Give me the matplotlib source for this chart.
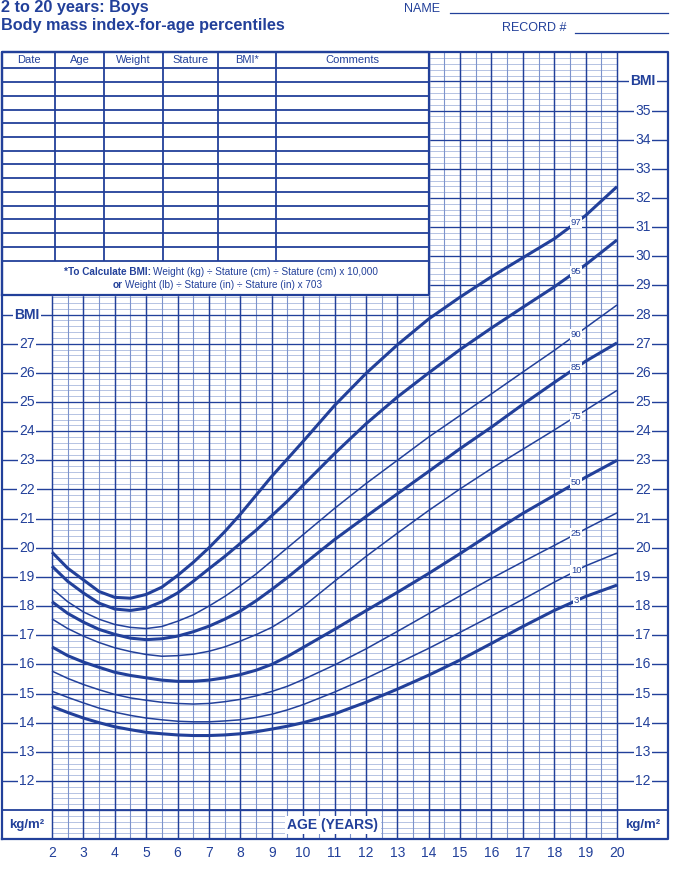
import numpy as np
import matplotlib
matplotlib.use("Agg")
import matplotlib.pyplot as plt

plt.rcParams['font.family'] = ['Liberation Sans', 'DejaVu Sans']

# ages (years) shared by every percentile curve
ages = [2, 2.5, 3, 3.5, 4, 4.5, 5, 5.5, 6, 6.5, 7, 7.5, 8, 8.5, 9, 9.5, 10,
        11, 12, 13, 14, 15, 16, 17, 18, 19, 20]

# BMI percentile curves
p97 = [19.85, 19.3, 18.9, 18.5, 18.3, 18.27, 18.4, 18.65, 19.05, 19.5, 20.0, 20.55, 21.15, 21.8, 22.45, 23.05, 23.65,
       24.88, 25.98, 26.96, 27.85, 28.6, 29.3, 29.95, 30.6, 31.4, 32.39]
p95 = [19.37, 18.85, 18.45, 18.1, 17.9, 17.85, 17.93, 18.15, 18.45, 18.85, 19.28, 19.7, 20.15, 20.6, 21.1, 21.6, 22.15,
       23.23, 24.25, 25.17, 26.0, 26.8, 27.54, 28.25, 28.95, 29.71, 30.56]
p90 = [18.6, 18.15, 17.8, 17.55, 17.37, 17.27, 17.23, 17.3, 17.48, 17.7, 18.0, 18.33, 18.7, 19.1, 19.55, 20.0, 20.45,
       21.35, 22.2, 23.0, 23.8, 24.54, 25.28, 26.03, 26.77, 27.55, 28.33]
p85 = [18.15, 17.75, 17.45, 17.2, 17.03, 16.9, 16.85, 16.88, 16.97, 17.12, 17.31, 17.55, 17.83, 18.18, 18.57, 18.98, 19.42,
       20.28, 21.07, 21.85, 22.62, 23.4, 24.14, 24.92, 25.67, 26.4, 27.03]
p75 = [17.56, 17.23, 16.97, 16.75, 16.57, 16.44, 16.34, 16.28, 16.3, 16.35, 16.45, 16.6, 16.8, 17.02, 17.27, 17.6, 17.98,
       18.85, 19.7, 20.5, 21.28, 22.02, 22.72, 23.38, 24.04, 24.72, 25.4]
p50 = [16.6, 16.3, 16.08, 15.9, 15.73, 15.62, 15.54, 15.46, 15.42, 15.42, 15.46, 15.54, 15.65, 15.8, 16.0, 16.27, 16.58,
       17.2, 17.84, 18.47, 19.12, 19.8, 20.5, 21.18, 21.8, 22.42, 23.0]
p25 = [15.77, 15.52, 15.31, 15.13, 14.97, 14.85, 14.77, 14.7, 14.66, 14.64, 14.66, 14.72, 14.8, 14.92, 15.07, 15.25, 15.48,
       15.98, 16.53, 17.13, 17.74, 18.35, 18.95, 19.52, 20.08, 20.65, 21.2]
p10 = [15.08, 14.87, 14.68, 14.5, 14.36, 14.25, 14.16, 14.1, 14.05, 14.03, 14.03, 14.06, 14.1, 14.18, 14.29, 14.44, 14.62,
       15.05, 15.52, 16.03, 16.55, 17.1, 17.66, 18.23, 18.82, 19.38, 19.82]
p3 = [14.56, 14.35, 14.16, 14.0, 13.86, 13.76, 13.67, 13.62, 13.58, 13.56, 13.56, 13.58, 13.62, 13.69, 13.78, 13.88, 14.0,
      14.3, 14.7, 15.15, 15.63, 16.15, 16.72, 17.3, 17.85, 18.33, 18.72]

curves = [("97", p97, True), ("95", p95, True), ("90", p90, False), ("85", p85, True),
          ("75", p75, False), ("50", p50, True), ("25", p25, False), ("10", p10, False),
          ("3", p3, True)]

left_ticks = list(range(12, 28))
right_ticks = list(range(12, 36))
age_ticks = list(range(2, 21))
table_cols = ["Date", "Age", "Weight", "Stature", "BMI*", "Comments"]

BLUE = '#22409a'
LIGHT = '#a9b9de'
MID = '#7d93cc'

# pixel -> data helpers for the page layout
PXY = (617 - 52) / 18.0
PXB = 29.15
def X(px):
    return 2 + (px - 52) / PXY
def Y(py):
    return 12 + (781 - py) / PXB

fig = plt.figure(figsize=(6.74, 8.71), dpi=100)
ax = fig.add_axes([0, 0, 1, 1])
ax.set_xlim(X(0), X(674))
ax.set_ylim(Y(871), Y(0))
ax.axis('off')

# grid
minor = [b for b in np.arange(10, 37.001, 0.2) if abs(b - round(b)) > 0.01]
ax.hlines(minor, 2, 20, color=LIGHT, lw=0.6, zorder=1)
ax.vlines(np.arange(2.5, 20, 1), 10, 37, color=MID, lw=0.8, zorder=1)
ax.hlines(range(11, 37), 2, 20, color=BLUE, lw=0.95, zorder=2)
ax.vlines(range(2, 21), 10, 37, color=BLUE, lw=1.05, zorder=2)

# label columns
ax.hlines(left_ticks + [28], X(2), 2, color=BLUE, lw=1.0, zorder=2)
ax.hlines(right_ticks + [36], 20, X(668), color=BLUE, lw=1.0, zorder=2)
ax.hlines(11, X(2), X(668), color=BLUE, lw=1.3, zorder=2)
for b in left_ticks:
    ax.text(X(27), b, str(b), ha='center', va='center', fontsize=10, color=BLUE,
            bbox=dict(facecolor='white', edgecolor='none', pad=1.2), zorder=3)
for b in right_ticks:
    ax.text(X(643), b, str(b), ha='center', va='center', fontsize=10, color=BLUE,
            bbox=dict(facecolor='white', edgecolor='none', pad=1.2), zorder=3)
ax.text(X(27), 28, 'BMI', ha='center', va='center', fontsize=10, fontweight='bold', color=BLUE,
        bbox=dict(facecolor='white', edgecolor='none', pad=1.2), zorder=3)
ax.text(X(643), 36, 'BMI', ha='center', va='center', fontsize=10, fontweight='bold', color=BLUE,
        bbox=dict(facecolor='white', edgecolor='none', pad=1.2), zorder=3)
ax.text(X(27), 10.5, 'kg/m²', ha='center', va='center', fontsize=9.5, fontweight='bold', color=BLUE, zorder=3)
ax.text(X(643), 10.5, 'kg/m²', ha='center', va='center', fontsize=9.5, fontweight='bold', color=BLUE, zorder=3)
ax.text(10.95, 10.5, 'AGE (YEARS)', ha='center', va='center', fontsize=10, fontweight='bold', color=BLUE,
        bbox=dict(facecolor='white', edgecolor='none', pad=1.5), zorder=3)

for a in age_ticks:
    ax.text(a, Y(853), str(a), ha='center', va='center', fontsize=10, color=BLUE)

# outer frame
ax.plot([X(2), X(668), X(668), X(2), X(2)], [10, 10, 37, 37, 10], color=BLUE, lw=1.6, zorder=6)

# table
t_top, t_hdr, t_rows_end, t_bot = 52.3, 68.3, 260.7, 295
ax.fill_between([X(2), 14], Y(t_bot), Y(t_top), color='white', zorder=4)
ax.plot([X(2), 14, 14, X(2), X(2)], [Y(t_bot), Y(t_bot), Y(t_top), Y(t_top), Y(t_bot)],
        color=BLUE, lw=1.6, zorder=5)
row_lines = np.linspace(t_hdr, t_rows_end, 15)
ax.hlines([Y(r) for r in row_lines], X(2), 14, color=BLUE, lw=1.3, zorder=5)
col_edges = [2, 55, 104.3, 162.7, 218.3, 275.7, 428.3]
ax.vlines([X(c) for c in col_edges[1:-1]], Y(t_rows_end), Y(t_top), color=BLUE, lw=1.3, zorder=5)
for name, c0, c1 in zip(table_cols, col_edges[:-1], col_edges[1:]):
    ax.text(X((c0 + c1) / 2), Y(60.5), name, ha='center', va='center', fontsize=8, color=BLUE, zorder=6)

ax.text(X(151), Y(272), '*To Calculate BMI:', ha='right', va='center', fontsize=7.2,
        fontweight='bold', color=BLUE, zorder=6)
ax.text(X(153), Y(272), 'Weight (kg) ÷ Stature (cm) ÷ Stature (cm) x 10,000', ha='left', va='center',
        fontsize=7.2, color=BLUE, zorder=6)
ax.text(X(123), Y(285), 'or', ha='right', va='center', fontsize=7.2, fontweight='bold', color=BLUE, zorder=6)
ax.text(X(125), Y(285), 'Weight (lb) ÷ Stature (in) ÷ Stature (in) x 703', ha='left', va='center',
        fontsize=7.2, color=BLUE, zorder=6)

# percentile curves
for lab, vals, bold in curves:
    ax.plot(ages, vals, color=BLUE, lw=2.2 if bold else 1.1, solid_capstyle='butt',
            solid_joinstyle='round', zorder=7)
    ax.text(18.7, np.interp(18.7, ages, vals), lab, ha='center', va='center', fontsize=6.8,
            color=BLUE, bbox=dict(facecolor='white', edgecolor='none', pad=0.6), zorder=8)

# header
ax.text(X(1), Y(8), '2 to 20 years: Boys', ha='left', va='center', fontsize=11.7,
        fontweight='bold', color=BLUE)
ax.text(X(1), Y(26), 'Body mass index-for-age percentiles', ha='left', va='center', fontsize=11.7,
        fontweight='bold', color=BLUE)
ax.text(X(440), Y(9), 'NAME', ha='right', va='center', fontsize=9, color=BLUE)
ax.plot([X(450), X(668)], [Y(13), Y(13)], color=BLUE, lw=0.9)
ax.text(X(566), Y(28), 'RECORD #', ha='right', va='center', fontsize=9, color=BLUE)
ax.plot([X(575), X(668)], [Y(33), Y(33)], color=BLUE, lw=0.9)

fig.savefig('out.png', dpi=100)
